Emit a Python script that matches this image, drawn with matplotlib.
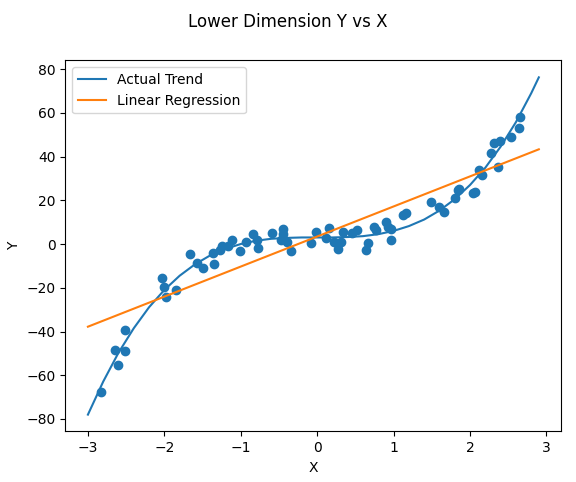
import matplotlib
matplotlib.use("Agg")
import matplotlib.pyplot as plt

# Scatter data
data_x = [-2.83, -2.61, -2.64, -2.51, -2.51, -2.03, -2.00, -1.98, -1.85,
          -1.67, -1.57, -1.50, -1.36, -1.35, -1.27, -1.24, -1.17, -1.12,
          -1.01, -0.93, -0.84, -0.79, -0.78, -0.59, -0.45, -0.45, -0.48,
          -0.39, -0.34, -0.08, -0.01, 0.16, 0.12, 0.22, 0.27, 0.34, 0.31,
          0.46, 0.52, 0.66, 0.64, 0.74, 0.77, 0.90, 0.93, 0.96, 0.96,
          1.12, 1.16, 1.49, 1.60, 1.66, 1.80, 1.84, 1.86, 2.04, 2.06,
          2.12, 2.15, 2.36, 2.28, 2.31, 2.39, 2.54, 2.64, 2.66]
data_y = [-67.8, -55.3, -48.5, -48.9, -39.3, -15.7, -19.5, -24.4, -21.0,
          -4.6, -8.5, -11.1, -4.0, -9.3, -2.7, -0.8, -0.8, 1.8,
          -3.2, 0.9, 4.6, 1.8, -2.0, 5.2, 6.7, 4.4, 1.8,
          1.1, -3.2, 0.3, 5.6, 7.2, 2.6, 1.1, -2.4, 5.6, 1.1,
          4.9, 6.4, 0.6, -2.7, 7.9, 6.4, 10.2, 7.9, 6.7, 1.8,
          13.3, 14.0, 19.1, 17.1, 14.8, 20.9, 24.7, 25.2, 23.2, 23.8,
          33.8, 31.5, 35.4, 41.5, 46.0, 47.1, 48.8, 52.9, 57.9]

# Actual trend curve
trend_x = [-3.0, -2.8, -2.6, -2.4, -2.2, -2.0, -1.8, -1.6, -1.4, -1.2, -1.0,
           -0.8, -0.6, -0.4, -0.2, 0.0, 0.2, 0.4, 0.6, 0.8, 1.0, 1.2, 1.4,
           1.6, 1.8, 2.0, 2.2, 2.4, 2.6, 2.8, 2.9]
trend_y = [-78.0, -62.9, -49.7, -38.5, -28.9, -21.0, -14.5, -9.3, -5.2, -2.2,
           0.0, 1.5, 2.4, 2.8, 3.0, 3.0, 3.0, 3.2, 3.6, 4.5, 6.0, 8.2, 11.2,
           15.3, 20.5, 27.0, 34.9, 44.5, 55.7, 68.9, 76.2]

# Linear regression line endpoints
reg_x = [-3.0, 2.9]
reg_y = [-37.8, 43.3]

fig = plt.figure(figsize=(5.76, 4.82), dpi=100)
ax = fig.add_axes([0.1135, 0.1048, 0.8611, 0.7697])

ax.scatter(data_x, data_y, color="C0")
ax.plot(trend_x, trend_y, color="C0", label="Actual Trend")
ax.plot(reg_x, reg_y, color="C1", label="Linear Regression")

ax.set_xlabel("X")
ax.set_ylabel("Y")
ax.legend(loc="upper left")
fig.suptitle("Lower Dimension Y vs X", y=0.974)

fig.savefig("out.png", dpi=100)
